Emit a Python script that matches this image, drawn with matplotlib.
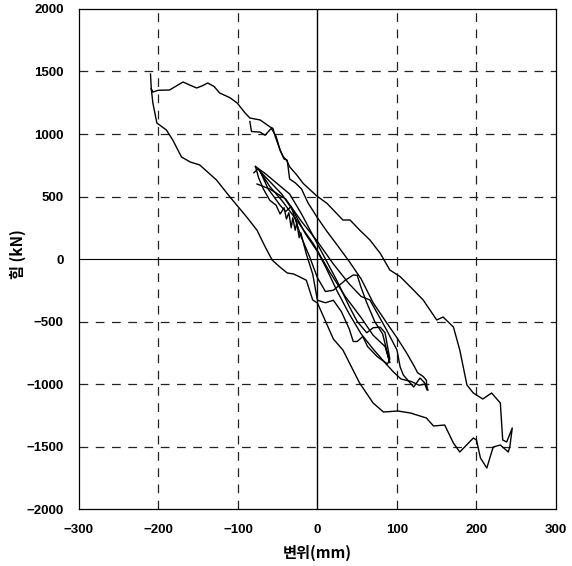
import matplotlib
matplotlib.use("Agg")
from matplotlib import pyplot as plt
import numpy as np

# displacement (mm) / force (kN) traces of the cyclic test
# outer loop: upper branch out to +245 mm, lower branch back to -210 mm
outer_x = [-210, -209, -207, -200, -186, -176, -169, -160, -152, -145, -138, -130, -123,
           -110, -101, -91, -85, -72, -60, -56, -53, -47, -43, -39, -35, -26, -18, -9, -1,
           12, 24, 32, 41, 53, 66, 79, 91, 104, 118, 133, 150, 158, 171, 179, 188, 196,
           208, 219, 230, 233, 238, 245, 242, 240,
           230, 221, 213, 205, 200, 196, 190, 179, 171, 160, 146, 137, 117, 101, 83, 70,
           53, 32, 20, 0, -6, -14, -22, -30, -38, -48, -57, -66, -76, -89, -110, -127, -148, -160,
           -171, -182, -190, -202, -207, -209]
outer_f = [1480, 1360, 1336, 1350, 1352, 1390, 1416, 1390, 1368, 1385, 1408, 1380, 1328,
           1290, 1248, 1168, 1128, 1112, 1058, 1045, 978, 872, 818, 792, 738, 672, 605, 552, 505,
           445, 365, 312, 312, 232, 152, 45, -88, -141, -230, -328, -488, -464, -544, -728, -1008, -1072,
           -1120, -1072, -1152, -1448, -1464, -1352, -1500, -1544,
           -1488, -1504, -1672, -1592, -1448, -1432, -1472, -1544, -1472, -1328, -1336, -1272, -1232, -1216, -1224, -1152,
           -992, -728, -640, -352, -328, -170, -144, -120, -112, -60, -8, 100, 230, 336, 496, 632, 752, 776,
           816, 952, 1032, 1088, 1248, 1360]

# inner loop starting from the spike near -85 mm
loop2_x = [-85, -83, -72, -66, -58, -52, -47, -42, -38, -35, -28, -20, -12, 0, 12, 25, 40,
           55, 70, 87, 100, 112, 121, 126, 133, 137, 138,
           135, 128, 118, 105, 95, 85, 70, 55, 40, 25, 10, 0, -15, -30, -45, -60, -75, -80]
loop2_f = [1100, 1020, 1015, 990, 1045, 980, 870, 800, 790, 640, 610, 560, 450, 330, 220, 110, -20,
           -160, -350, -510, -630, -750, -850, -910, -940, -970, -1050,
           -1000, -1010, -980, -960, -900, -830, -720, -600, -440, -260, -60, 60, 200, 380, 520, 620, 720, 690]

# jagged loop through the dense cluster at about -35 mm
loop3_x = [-78, -74, -68, -60, -52, -47, -42, -39, -36, -33, -31, -28, -26, -23, -21, -14, -6, 0,
           10, 20, 30, 40, 45, 50, 57, 63, 75, 88, 91, 89, 85, 79, 70, 62, 50, 40, 25, 10,
           -5, -20, -35, -50, -65, -78]
loop3_f = [740, 650, 560, 470, 430, 360, 410, 320, 370, 250, 330, 230, 290, 170, 210, 40, -120, -330,
           -350, -330, -420, -560, -660, -660, -620, -700, -780, -840, -800, -730, -590, -545, -550, -590, -500, -380, -180, 0,
           180, 360, 520, 600, 680, 740]

# loop with the small hump near +45 mm
loop4_x = [-72, -62, -55, -47, -40, -33, -27, -20, -10, 0, 10, 20, 35, 45, 50, 55, 62, 72, 82, 91,
           85, 70, 55, 35, 15, -5, -25, -45, -60, -72]
loop4_f = [700, 560, 500, 430, 380, 420, 300, 170, 20, -150, -260, -250, -170, -128, -130, -230, -350, -500, -600, -830,
           -700, -610, -470, -300, -100, 120, 300, 470, 580, 700]

# right-hand inner branch ending near +139 mm
loop5_x = [-76, -60, -40, -20, 0, 20, 40, 55, 66, 87, 100, 104, 108, 115, 121, 129, 135, 139]
loop5_f = [600, 560, 480, 300, 140, -40, -200, -300, -328, -568, -728, -864, -928, -980, -1024, -952, -992, -1048]

x_ticks = [-300, -200, -100, 0, 100, 200, 300]
y_ticks = [-2000, -1500, -1000, -500, 0, 500, 1000, 1500, 2000]


def main():
    fig = plt.figure(figsize=(5.72, 5.66), dpi=100)
    ax = fig.add_axes([0.138, 0.1007, 0.834, 0.8834])

    # dashed grid, solid zero lines
    for gx in [-200, -100, 100, 200]:
        ax.axvline(gx, color="#222222", linestyle=(0, (7, 6)), linewidth=0.9, zorder=1)
    for gy in [-1500, -1000, -500, 500, 1000, 1500]:
        ax.axhline(gy, color="#222222", linestyle=(0, (7, 6)), linewidth=0.9, zorder=1)
    ax.axvline(0, color="black", linewidth=1.0, zorder=1)
    ax.axhline(0, color="black", linewidth=0.8, zorder=1)

    for xs, fs in [(outer_x, outer_f), (loop2_x, loop2_f), (loop3_x, loop3_f),
                   (loop4_x, loop4_f), (loop5_x, loop5_f)]:
        ax.plot(xs, fs, color="black", linewidth=1.0, zorder=3)

    ax.set_xlim(-300, 300)
    ax.set_ylim(-2000, 2000)
    ax.set_xticks(x_ticks)
    ax.set_yticks(y_ticks)
    fmt = lambda t: str(t).replace("-", "\u2212")
    ax.set_xticklabels([fmt(t) for t in x_ticks], fontfamily="Liberation Sans",
                       fontweight="bold", fontsize=9.5)
    ax.set_yticklabels([fmt(t) for t in y_ticks], fontfamily="Liberation Sans",
                       fontweight="bold", fontsize=9.5)
    ax.tick_params(length=0, pad=11)
    for sp in ax.spines.values():
        sp.set_linewidth(0.9)

    ax.set_xlabel("변위(mm)", fontfamily=["Noto Sans CJK KR", "DejaVu Sans"],
                  fontweight="bold", fontsize=11, labelpad=6)
    ax.set_ylabel("힘 (kN)", fontfamily=["Noto Sans CJK KR", "DejaVu Sans"],
                  fontweight="bold", fontsize=11)
    ax.yaxis.set_label_coords(-0.112, 0.51)

    fig.savefig("out.png", dpi=100)
    plt.close(fig)


if __name__ == "__main__":
    main()
